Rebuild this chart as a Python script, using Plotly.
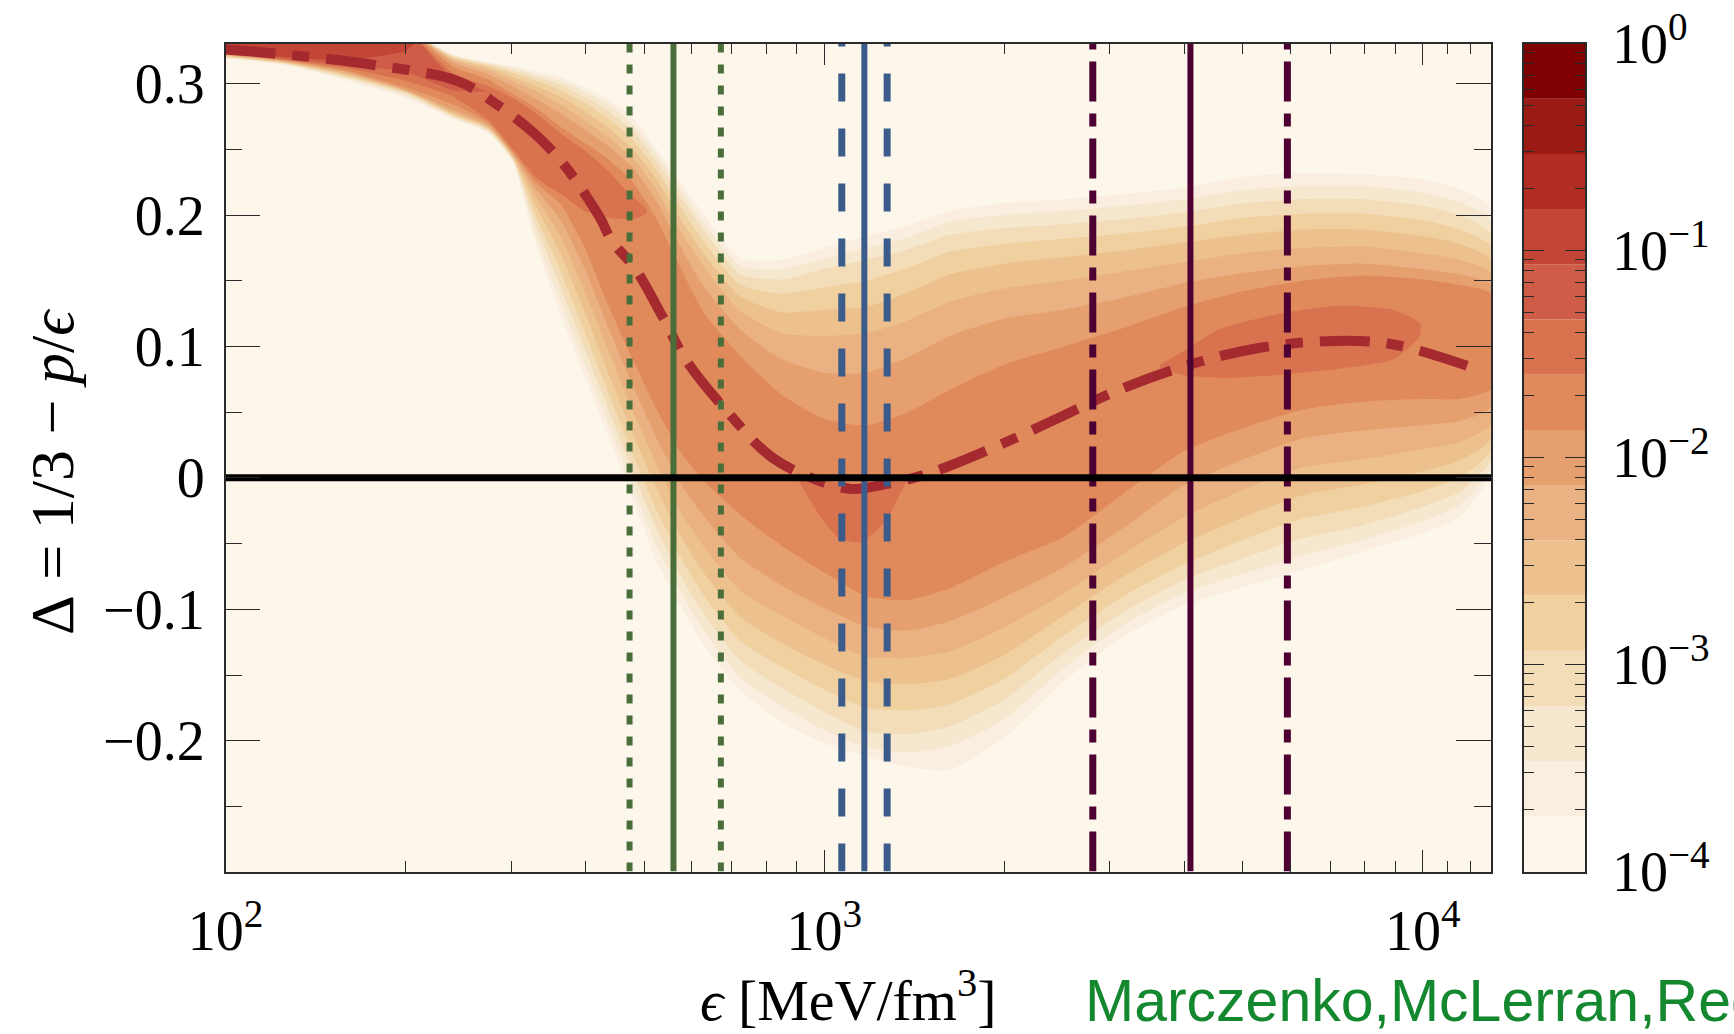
import math
import plotly.graph_objects as go

# ---------------- data ----------------
# energy-density grid for the probability-contour bands [MeV/fm^3]
EPS_GRID = [100, 126, 158, 200, 240, 275, 302, 331, 363, 398, 437, 479, 525, 575, 631,
            724, 851, 1000, 1175, 1380, 1622, 1995, 2512, 3162, 3981, 5012, 6310, 7943,
            10000, 11482, 13000]

# upper (U) and lower (D) edges of each density level (1 = outermost ... 8)
U1 = [0.34, 0.34, 0.34, 0.34, 0.322, 0.316, 0.313, 0.309, 0.305, 0.297, 0.288, 0.274, 0.250, 0.225, 0.200,
      0.167, 0.166, 0.175, 0.184, 0.192, 0.203, 0.209, 0.212, 0.216, 0.221, 0.229, 0.232, 0.231, 0.227, 0.220, 0.205]
U2 = [0.34, 0.34, 0.34, 0.34, 0.3215, 0.3155, 0.312, 0.307, 0.302, 0.294, 0.284, 0.269, 0.246, 0.220, 0.194,
      0.161, 0.159, 0.167, 0.175, 0.183, 0.195, 0.200, 0.203, 0.207, 0.212, 0.219, 0.222, 0.222, 0.217, 0.210, 0.196]
U3 = [0.34, 0.34, 0.34, 0.34, 0.321, 0.315, 0.310, 0.305, 0.299, 0.290, 0.279, 0.264, 0.241, 0.214, 0.188,
      0.155, 0.151, 0.159, 0.166, 0.174, 0.185, 0.190, 0.193, 0.197, 0.202, 0.209, 0.212, 0.212, 0.207, 0.200, 0.186]
U4 = [0.34, 0.34, 0.34, 0.34, 0.320, 0.3135, 0.308, 0.302, 0.295, 0.285, 0.273, 0.257, 0.234, 0.206, 0.179,
      0.147, 0.140, 0.145, 0.150, 0.160, 0.172, 0.178, 0.182, 0.186, 0.191, 0.198, 0.201, 0.201, 0.196, 0.189, 0.176]
U5 = [0.34, 0.34, 0.34, 0.34, 0.319, 0.312, 0.305, 0.298, 0.290, 0.279, 0.266, 0.250, 0.227, 0.197, 0.170,
      0.138, 0.126, 0.128, 0.130, 0.141, 0.155, 0.163, 0.168, 0.173, 0.179, 0.185, 0.189, 0.189, 0.184, 0.178, 0.166]
U6 = [0.34, 0.34, 0.34, 0.34, 0.318, 0.310, 0.302, 0.294, 0.284, 0.272, 0.259, 0.243, 0.219, 0.188, 0.160,
      0.127, 0.110, 0.108, 0.110, 0.120, 0.134, 0.144, 0.150, 0.157, 0.164, 0.171, 0.175, 0.176, 0.171, 0.166, 0.156]
U7 = [0.34, 0.34, 0.34, 0.34, 0.316, 0.307, 0.298, 0.288, 0.277, 0.265, 0.252, 0.236, 0.210, 0.176, 0.145,
      0.113, 0.090, 0.080, 0.080, 0.092, 0.108, 0.121, 0.128, 0.137, 0.148, 0.156, 0.161, 0.163, 0.159, 0.155, 0.147]
U8 = [0.34, 0.34, 0.34, 0.34, 0.313, 0.303, 0.292, 0.281, 0.267, 0.255, 0.242, 0.225, 0.197, 0.160, 0.125,
      0.093, 0.063, 0.045, 0.040, 0.050, 0.067, 0.086, 0.100, 0.114, 0.130, 0.142, 0.150, 0.154, 0.151, 0.147, 0.140]

D1 = [0.319, 0.314, 0.303, 0.289, 0.273, 0.262, 0.240, 0.175, 0.124, 0.077, 0.030, -0.016, -0.064, -0.097, -0.128,
      -0.162, -0.186, -0.202, -0.212, -0.220, -0.222, -0.198, -0.155, -0.121, -0.097, -0.083, -0.070, -0.056, -0.042, -0.030, 0.003]
D2 = [0.3195, 0.3145, 0.304, 0.2905, 0.274, 0.263, 0.241, 0.182, 0.134, 0.087, 0.040, -0.006, -0.052, -0.086, -0.117,
      -0.152, -0.174, -0.192, -0.205, -0.209, -0.204, -0.184, -0.145, -0.112, -0.088, -0.073, -0.059, -0.047, -0.033, -0.021, 0.008]
D3 = [0.320, 0.315, 0.305, 0.292, 0.275, 0.264, 0.242, 0.190, 0.145, 0.098, 0.051, 0.005, -0.039, -0.074, -0.104,
      -0.139, -0.160, -0.178, -0.193, -0.195, -0.189, -0.169, -0.133, -0.102, -0.078, -0.061, -0.046, -0.036, -0.022, -0.011, 0.014]
D4 = [0.3205, 0.3155, 0.306, 0.293, 0.276, 0.265, 0.243, 0.198, 0.157, 0.111, 0.063, 0.018, -0.025, -0.060, -0.090,
      -0.124, -0.144, -0.161, -0.175, -0.177, -0.172, -0.153, -0.120, -0.090, -0.066, -0.047, -0.031, -0.022, -0.010, 0.000, 0.021]
D5 = [0.321, 0.316, 0.307, 0.294, 0.277, 0.266, 0.244, 0.206, 0.170, 0.126, 0.078, 0.033, -0.008, -0.044, -0.073,
      -0.106, -0.126, -0.142, -0.155, -0.157, -0.153, -0.135, -0.105, -0.075, -0.050, -0.030, -0.013, -0.005, 0.005, 0.013, 0.030]
D6 = [0.3215, 0.3165, 0.308, 0.2945, 0.278, 0.267, 0.245, 0.213, 0.183, 0.142, 0.096, 0.051, 0.010, -0.026, -0.053,
      -0.086, -0.105, -0.122, -0.136, -0.137, -0.132, -0.114, -0.088, -0.058, -0.030, -0.009, 0.008, 0.014, 0.022, 0.027, 0.041]
D7 = [0.322, 0.317, 0.309, 0.295, 0.280, 0.268, 0.2465, 0.219, 0.196, 0.159, 0.113, 0.070, 0.030, -0.004, -0.030,
      -0.061, -0.082, -0.099, -0.113, -0.116, -0.109, -0.091, -0.068, -0.038, -0.006, 0.014, 0.030, 0.036, 0.040, 0.043, 0.054]
D8 = [0.3225, 0.3175, 0.310, 0.297, 0.284, 0.270, 0.248, 0.224, 0.208, 0.175, 0.130, 0.090, 0.052, 0.020, -0.003,
      -0.028, -0.052, -0.072, -0.090, -0.093, -0.084, -0.064, -0.045, -0.012, 0.020, 0.038, 0.052, 0.058, 0.060, 0.060, 0.068]

# darker patches (level 9, 10, 11)
L9A_EPS = [100, 126, 158, 200, 240, 275, 302, 331, 363, 398, 437, 466, 490, 505]
L9A_U = [0.34, 0.34, 0.34, 0.34, 0.308, 0.298, 0.289, 0.277, 0.262, 0.249, 0.233, 0.219, 0.210, 0.204]
L9A_D = [0.323, 0.318, 0.312, 0.302, 0.290, 0.272, 0.250, 0.228, 0.216, 0.203, 0.198, 0.197, 0.198, 0.202]
L9B_EPS = [900, 980, 1060, 1150, 1260, 1380]
L9B_U = [0.004, -0.001, -0.004, -0.006, -0.003, 0.003]
L9B_D = [0.000, -0.028, -0.046, -0.049, -0.034, 0.000]
L9C_EPS = [3630, 4000, 4571, 5623, 7244, 8913, 9886]
L9C_U = [0.086, 0.097, 0.113, 0.124, 0.131, 0.128, 0.118]
L9C_D = [0.084, 0.078, 0.076, 0.078, 0.083, 0.090, 0.108]
L10_EPS = [100, 126, 158, 200, 240, 275]
L10_U = [0.34, 0.34, 0.34, 0.34, 0.304, 0.294]
L10_D = [0.3235, 0.319, 0.314, 0.309, 0.295, 0.294]
L11_EPS = [100, 126, 158, 200, 209]
L11_U = [0.34, 0.34, 0.34, 0.34, 0.333]
L11_D = [0.3245, 0.320, 0.318, 0.325, 0.333]

# median curve
MEDIAN_EPS = [100, 127, 178, 245, 284, 330, 371, 422, 442, 482, 538, 589, 687, 818, 977,
              1114, 1274, 1486, 1982, 2472, 3083, 4111, 5346, 7129, 8892, 11858]
MEDIAN_DELTA = [0.326, 0.322, 0.314, 0.3017, 0.284, 0.261, 0.2358, 0.198, 0.180, 0.160, 0.122, 0.089,
                0.051, 0.0156, -0.002, -0.0084, -0.0046, 0.003, 0.0258, 0.046, 0.0663, 0.0866,
                0.099, 0.1042, 0.1017, 0.0853]

# vertical markers: (lower, central, upper) energy densities
GREEN_EPS = [473, 560, 672]
BLUE_EPS = [1070, 1167, 1274]
PURPLE_EPS = [2810, 4091, 5940]

# colour levels (log10 density from -4 to 0 in 15 steps)
LEVEL_COLORS = ["#fdf6ea", "#f9eee0", "#f6e7cf", "#f3ddb8", "#f0d09f", "#edc18e", "#eab282",
                "#e6a070", "#e08a5c", "#d9734f", "#cf5c47", "#c24535", "#b22d21", "#9a1a14", "#7f0000"]
CBAR_TICKS = [-4, -3, -2, -1, 0]
CBAR_TEXT = ["10<sup>\u22124</sup>", "10<sup>\u22123</sup>", "10<sup>\u22122</sup>",
             "10<sup>\u22121</sup>", "10<sup>0</sup>"]
X_TICKS = [100, 1000, 10000]
X_TEXT = ["10<sup>2</sup>", "10<sup>3</sup>", "10<sup>4</sup>"]

X_RANGE = [100, 13000]
Y_RANGE = [-0.2995, 0.3305]

# ---------------- figure ----------------
W, H = 1734, 1034
SERIF = "Liberation Serif, DejaVu Serif, serif"
AX = "#2a2a2a"

fig = go.Figure()


def band(xs, ups, downs, color):
    fig.add_trace(go.Scatter(x=list(xs) + list(xs)[::-1], y=list(ups) + list(downs)[::-1],
                             fill="toself", fillcolor=color, mode="lines", line_shape="spline",
                             line=dict(width=0, color=color, smoothing=0.6), hoverinfo="skip"))


UPS = [U1, U2, U3, U4, U5, U6, U7, U8]
DOWNS = [D1, D2, D3, D4, D5, D6, D7, D8]
for k, (u, d) in enumerate(zip(UPS, DOWNS), start=1):
    band(EPS_GRID, u, d, LEVEL_COLORS[k])
band(L9A_EPS, L9A_U, L9A_D, LEVEL_COLORS[9])
band(L9B_EPS, L9B_U, L9B_D, LEVEL_COLORS[9])
band(L9C_EPS, L9C_U, L9C_D, LEVEL_COLORS[9])
band(L10_EPS, L10_U, L10_D, LEVEL_COLORS[10])
band(L11_EPS, L11_U, L11_D, LEVEL_COLORS[11])

# median
fig.add_trace(go.Scatter(x=MEDIAN_EPS, y=MEDIAN_DELTA, mode="lines",
                         line=dict(color="#a52a30", width=10, dash="50px,17px,17px,17px", shape="spline"),
                         hoverinfo="skip"))


def vline(xv, color, width, dash):
    fig.add_trace(go.Scatter(x=[xv, xv], y=Y_RANGE, mode="lines",
                             line=dict(color=color, width=width, dash=dash), hoverinfo="skip"))


GREEN, BLUE, PURPLE = "#4a6e3a", "#3b5b8a", "#4d0032"
vline(GREEN_EPS[0], GREEN, 6, "9px,12px")
vline(GREEN_EPS[1], GREEN, 6, "solid")
vline(GREEN_EPS[2], GREEN, 6, "9px,12px")
vline(BLUE_EPS[0], BLUE, 7, "28px,27px")
vline(BLUE_EPS[1], BLUE, 6, "solid")
vline(BLUE_EPS[2], BLUE, 7, "28px,27px")
vline(PURPLE_EPS[0], PURPLE, 7, "40px,12px,13px,12px")
vline(PURPLE_EPS[1], PURPLE, 6, "solid")
vline(PURPLE_EPS[2], PURPLE, 7, "40px,12px,13px,12px")

# zero line
fig.add_trace(go.Scatter(x=X_RANGE, y=[0, 0], mode="lines",
                         line=dict(color="black", width=7), hoverinfo="skip"))

# colour bar as stacked bars on its own axis
n_lv = len(LEVEL_COLORS)
step = 4.0 / n_lv
fig.add_trace(go.Bar(x=[0] * n_lv, y=[step] * n_lv, base=[-4 + i * step for i in range(n_lv)],
                     marker=dict(color=LEVEL_COLORS, line=dict(width=0)), width=1.0,
                     xaxis="x2", yaxis="y2", hoverinfo="skip"))

X0, X1 = 225.6 / W, 1491 / W
Y0, Y1 = 1 - 871.5 / H, 1 - 43.5 / H
minor_x = [m * 10 ** e for e in (2, 3) for m in range(2, 10)] + [11000, 12000, 13000]
minor_cb = [e + math.log10(m) for e in (-4, -3, -2, -1) for m in range(2, 10)]
TICKFONT = dict(family=SERIF, size=56, color="black")

fig.update_layout(
    template="none",
    width=W, height=H, margin=dict(l=0, r=0, t=0, b=0, pad=0), autosize=False,
    paper_bgcolor="white", plot_bgcolor=LEVEL_COLORS[0], showlegend=False, barmode="overlay",
    xaxis=dict(type="log", range=[math.log10(X_RANGE[0]), math.log10(X_RANGE[1])], domain=[X0, X1],
               automargin=False, showline=True, linecolor=AX, linewidth=1.5, mirror="ticks",
               ticks="inside", ticklen=22, tickwidth=1.4, tickcolor=AX,
               tickmode="array", tickvals=X_TICKS, ticktext=X_TEXT,
               showgrid=False, zeroline=False, tickfont=TICKFONT, ticklabelstandoff=10,
               minor=dict(ticks="inside", ticklen=11, tickwidth=1.3, tickcolor=AX,
                          tickvals=minor_x, showgrid=False)),
    yaxis=dict(range=Y_RANGE, domain=[Y0, Y1], automargin=False, showline=True, linecolor=AX,
               linewidth=1.5, mirror="ticks", ticks="inside", ticklen=35, tickwidth=1.4, tickcolor=AX,
               tick0=0, dtick=0.1, showgrid=False, zeroline=False,
               tickfont=TICKFONT, ticklabelstandoff=8,
               minor=dict(ticks="inside", ticklen=17, tickwidth=1.3, tickcolor=AX, dtick=0.05,
                          tick0=0, showgrid=False)),
    xaxis2=dict(domain=[1524 / W, 1585 / W], anchor="y2", range=[-0.5, 0.5], showline=True,
                automargin=False, linecolor=AX, linewidth=1.5, mirror=True, ticks="",
                showticklabels=False, showgrid=False, zeroline=False),
    yaxis2=dict(domain=[Y0, Y1], anchor="x2", range=[-4, 0], side="right", showline=True,
                automargin=False, linecolor=AX, linewidth=1.5, mirror="ticks", ticks="inside",
                ticklen=20, tickwidth=1.4, tickcolor=AX, tickmode="array", tickvals=CBAR_TICKS,
                ticktext=CBAR_TEXT, showgrid=False, zeroline=False, ticklabelstandoff=14,
                tickfont=TICKFONT,
                minor=dict(ticks="inside", ticklen=10, tickwidth=1.2, tickcolor=AX,
                           tickvals=minor_cb, showgrid=False)),
    annotations=[
        dict(text="\u0394\u00a0=\u00a01/3\u00a0\u2212\u00a0<i>p</i>/<i>\u03f5</i>", xref="paper", yref="paper",
             x=52 / W, y=1 - 472 / H, xanchor="center", yanchor="middle", textangle=-90,
             showarrow=False, font=dict(family=SERIF, size=62, color="black")),
        dict(text="<i>\u03f5</i> [MeV/fm<sup>3</sup>]", xref="paper", yref="paper",
             x=848 / W, y=1 - 996 / H, xanchor="center", yanchor="middle",
             showarrow=False, font=dict(family=SERIF, size=58, color="black")),
        dict(text="Marczenko,McLerran,Redlich,Sasaki", xref="paper", yref="paper",
             x=1083 / W, y=1 - 1001 / H, xanchor="left", yanchor="middle",
             showarrow=False, font=dict(family="Liberation Sans, Arial, sans-serif", size=59,
                                        color="#13882e")),
    ],
)

fig.write_html("out.html")
